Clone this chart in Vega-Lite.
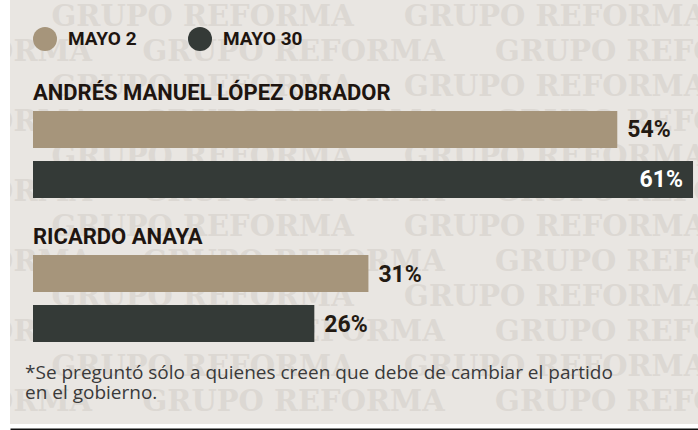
{
  "$schema": "https://vega.github.io/schema/vega-lite/v6.json",
  "width": 698,
  "height": 430,
  "autosize": {"type": "fit", "contains": "padding"},
  "padding": {"left": 10, "top": 0, "right": 0, "bottom": 1},
  "background": "#ffffff",
  "view": {"fill": "#e9e6e2", "stroke": null},
  "config": {
    "font": "Roboto",
    "axisY": {"disable": true},
    "axisX": {"domain": true, "domainColor": "#111111", "domainWidth": 2, "ticks": false, "labels": false, "grid": false, "offset": 5, "minExtent": 0}
  },
  "data": {
    "values": [
      {"candidato": "ANDRÉS MANUEL LÓPEZ OBRADOR", "fecha": "MAYO 2", "valor": 54},
      {"candidato": "ANDRÉS MANUEL LÓPEZ OBRADOR", "fecha": "MAYO 30", "valor": 61},
      {"candidato": "RICARDO ANAYA", "fecha": "MAYO 2", "valor": 31},
      {"candidato": "RICARDO ANAYA", "fecha": "MAYO 30", "valor": 26}
    ]
  },
  "transform": [{"calculate": "datum.valor + '%'", "as": "etiqueta"}],
  "layer": [
    {
      "mark": {"type": "text", "font": "DejaVu Serif", "fontWeight": "bold", "fontSize": 29, "fill": "#dcd8d3", "align": "left", "baseline": "alphabetic", "lineHeight": 70, "dx": -334, "dy": -85, "clip": true,
        "text": ["GRUPO REFORMA\u00a0\u00a0\u00a0\u00a0\u00a0GRUPO REFORMA\u00a0\u00a0\u00a0\u00a0\u00a0GRUPO REFORMA", "GRUPO REFORMA\u00a0\u00a0\u00a0\u00a0\u00a0GRUPO REFORMA\u00a0\u00a0\u00a0\u00a0\u00a0GRUPO REFORMA", "GRUPO REFORMA\u00a0\u00a0\u00a0\u00a0\u00a0GRUPO REFORMA\u00a0\u00a0\u00a0\u00a0\u00a0GRUPO REFORMA", "GRUPO REFORMA\u00a0\u00a0\u00a0\u00a0\u00a0GRUPO REFORMA\u00a0\u00a0\u00a0\u00a0\u00a0GRUPO REFORMA", "GRUPO REFORMA\u00a0\u00a0\u00a0\u00a0\u00a0GRUPO REFORMA\u00a0\u00a0\u00a0\u00a0\u00a0GRUPO REFORMA", "GRUPO REFORMA\u00a0\u00a0\u00a0\u00a0\u00a0GRUPO REFORMA\u00a0\u00a0\u00a0\u00a0\u00a0GRUPO REFORMA"]},
      "transform": [{"filter": "datum.valor == 54"}],
      "encoding": {
        "x": {"datum": 0, "type": "quantitative"},
        "y": {"datum": "ANDRÉS MANUEL LÓPEZ OBRADOR", "type": "nominal", "bandPosition": 0}
      }
    },
    {
      "mark": {"type": "text", "font": "DejaVu Serif", "fontWeight": "bold", "fontSize": 29, "fill": "#dcd8d3", "align": "left", "baseline": "alphabetic", "lineHeight": 70, "dx": -243, "dy": -50, "clip": true,
        "text": ["GRUPO REFORMA\u00a0\u00a0\u00a0\u00a0\u00a0GRUPO REFORMA\u00a0\u00a0\u00a0\u00a0\u00a0GRUPO REFORMA", "GRUPO REFORMA\u00a0\u00a0\u00a0\u00a0\u00a0GRUPO REFORMA\u00a0\u00a0\u00a0\u00a0\u00a0GRUPO REFORMA", "GRUPO REFORMA\u00a0\u00a0\u00a0\u00a0\u00a0GRUPO REFORMA\u00a0\u00a0\u00a0\u00a0\u00a0GRUPO REFORMA", "GRUPO REFORMA\u00a0\u00a0\u00a0\u00a0\u00a0GRUPO REFORMA\u00a0\u00a0\u00a0\u00a0\u00a0GRUPO REFORMA", "GRUPO REFORMA\u00a0\u00a0\u00a0\u00a0\u00a0GRUPO REFORMA\u00a0\u00a0\u00a0\u00a0\u00a0GRUPO REFORMA", "GRUPO REFORMA\u00a0\u00a0\u00a0\u00a0\u00a0GRUPO REFORMA\u00a0\u00a0\u00a0\u00a0\u00a0GRUPO REFORMA"]},
      "transform": [{"filter": "datum.valor == 54"}],
      "encoding": {
        "x": {"datum": 0, "type": "quantitative"},
        "y": {"datum": "ANDRÉS MANUEL LÓPEZ OBRADOR", "type": "nominal", "bandPosition": 0}
      }
    },
    {
      "mark": {"type": "bar"},
      "encoding": {
        "x": {"field": "valor", "type": "quantitative", "title": null, "scale": {"domain": [-2.126, 61.46], "nice": false, "zero": false}},
        "y": {"field": "candidato", "type": "nominal", "sort": ["ANDRÉS MANUEL LÓPEZ OBRADOR", "RICARDO ANAYA"], "scale": {"range": [111, 342], "paddingInner": 0.396, "paddingOuter": 0}},
        "yOffset": {"field": "fecha", "type": "nominal", "sort": ["MAYO 2", "MAYO 30"], "scale": {"paddingInner": 0.26, "paddingOuter": 0}},
        "color": {"field": "fecha", "type": "nominal", "sort": ["MAYO 2", "MAYO 30"],
          "scale": {"domain": ["MAYO 2", "MAYO 30"], "range": ["#a6957b", "#343a37"]},
          "legend": {"orient": "none", "legendX": 23, "legendY": 27, "direction": "horizontal", "title": null, "symbolType": "circle", "symbolSize": 576, "symbolStrokeWidth": 0, "symbolOpacity": 1, "labelFont": "Roboto", "labelFontWeight": "bold", "labelFontSize": 19, "labelColor": "#1e1510", "labelOffset": 11, "columnPadding": 51, "padding": 0}}
      }
    },
    {
      "mark": {"type": "text", "align": "left", "baseline": "alphabetic", "dy": -11, "font": "Roboto", "fontWeight": "bold", "fontSize": 22, "fill": "#1e1510"},
      "transform": [{"filter": "datum.fecha == 'MAYO 2'"}],
      "encoding": {
        "x": {"datum": 0, "type": "quantitative"},
        "y": {"field": "candidato", "type": "nominal", "bandPosition": 0},
        "text": {"field": "candidato"}
      }
    },
    {
      "mark": {"type": "text", "align": "left", "baseline": "middle", "dx": 10, "dy": 1, "font": "Roboto", "fontWeight": "bold", "fontSize": 23, "fill": "#231a12"},
      "transform": [{"filter": "datum.valor < 58"}],
      "encoding": {
        "x": {"field": "valor", "type": "quantitative", "title": null},
        "y": {"field": "candidato", "type": "nominal"},
        "yOffset": {"field": "fecha", "type": "nominal"},
        "text": {"field": "etiqueta"}
      }
    },
    {
      "mark": {"type": "text", "align": "right", "baseline": "middle", "dx": -10, "dy": 1, "font": "Roboto", "fontWeight": "bold", "fontSize": 23, "fill": "#ffffff"},
      "transform": [{"filter": "datum.valor >= 58"}],
      "encoding": {
        "x": {"field": "valor", "type": "quantitative", "title": null},
        "y": {"field": "candidato", "type": "nominal"},
        "yOffset": {"field": "fecha", "type": "nominal"},
        "text": {"field": "etiqueta"}
      }
    },
    {
      "mark": {"type": "text", "align": "left", "baseline": "alphabetic", "dx": -8, "dy": 37, "font": "Open Sans", "fontSize": 19, "fill": "#3a3a3a", "lineHeight": 20,
        "text": ["*Se preguntó sólo a quienes creen que debe de cambiar el partido", " en el gobierno."]},
      "transform": [{"filter": "datum.valor == 54"}],
      "encoding": {
        "x": {"datum": 0, "type": "quantitative"},
        "y": {"datum": "RICARDO ANAYA", "type": "nominal", "bandPosition": 1}
      }
    }
  ]
}
